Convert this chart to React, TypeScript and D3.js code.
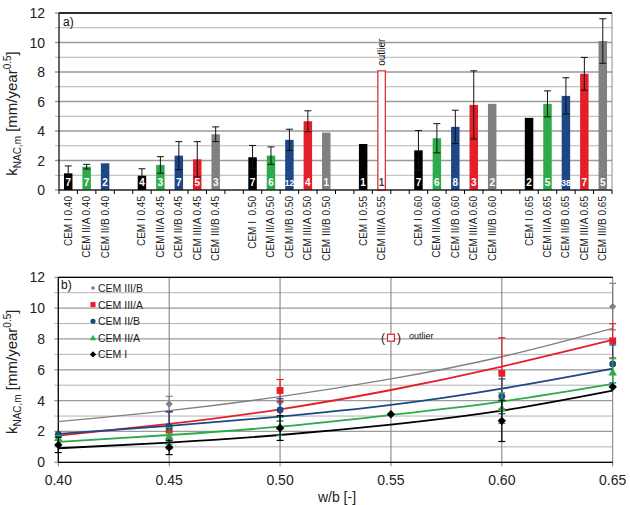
import React from "react";
import * as d3 from "d3";

// ---------- data ----------
const wbValues = [0.4, 0.45, 0.5, 0.55, 0.6, 0.65];
const wbLabels = ["0.40", "0.45", "0.50", "0.55", "0.60", "0.65"];
const cementTypes = ["CEM I", "CEM II/A", "CEM II/B", "CEM III/A", "CEM III/B"];

const meanCEMI = [1.13, 0.97, 2.22, 3.12, 2.69, 4.89];
const meanCEMIIA = [1.58, 1.7, 2.33, null, 3.51, 5.84];
const meanCEMIIB = [1.81, 2.33, 3.4, null, 4.28, 6.38];
const meanCEMIIIA = [null, 2.08, 4.66, 8.08, 5.77, 7.88];
const meanCEMIIIB = [null, 3.78, 3.89, null, 5.84, 10.1];

const errCEMI = [0.5, 0.47, 0.8, null, 1.34, null];
const errCEMIIA = [0.16, 0.56, 0.59, null, 0.99, 0.88];
const errCEMIIB = [null, 0.95, 0.72, null, 1.13, 1.23];
const errCEMIIIA = [null, 1.2, 0.71, null, 2.31, 1.11];
const errCEMIIIB = [null, 0.5, null, null, null, 1.51];

const countCEMI = [7, 4, 7, 1, 7, 2];
const countCEMIIA = [7, 3, 6, null, 6, 5];
const countCEMIIB = [2, 7, 12, null, 8, 38];
const countCEMIIIA = [null, 5, 4, 1, 3, 7];
const countCEMIIIB = [null, 3, 1, null, 2, 5];

// trend lines read at each w/b
const trendCEMI = [0.91, 1.28, 1.77, 2.44, 3.35, 4.65];
const trendCEMIIA = [1.32, 1.77, 2.31, 3.07, 3.94, 5.08];
const trendCEMIIB = [1.84, 2.36, 2.96, 3.72, 4.78, 6.08];
const trendCEMIIIA = [1.73, 2.49, 3.44, 4.69, 6.21, 7.94];
const trendCEMIIIB = [2.64, 3.35, 4.26, 5.41, 6.85, 8.69];

const outlierType = "CEM III/A";
const outlierWb = 0.55;

const yTicks = [0, 2, 4, 6, 8, 10, 12];
const yMinor = [0, 1, 2, 3, 4, 5, 6, 7, 8, 9, 10, 11, 12];

// ---------- styling ----------
const colors: Record<string, string> = {
  "CEM I": "#000000",
  "CEM II/A": "#2faa4a",
  "CEM II/B": "#1d4785",
  "CEM III/A": "#e3202a",
  "CEM III/B": "#808080",
};
const means: Record<string, (number | null)[]> = {
  "CEM I": meanCEMI,
  "CEM II/A": meanCEMIIA,
  "CEM II/B": meanCEMIIB,
  "CEM III/A": meanCEMIIIA,
  "CEM III/B": meanCEMIIIB,
};
const errs: Record<string, (number | null)[]> = {
  "CEM I": errCEMI,
  "CEM II/A": errCEMIIA,
  "CEM II/B": errCEMIIB,
  "CEM III/A": errCEMIIIA,
  "CEM III/B": errCEMIIIB,
};
const counts: Record<string, (number | null)[]> = {
  "CEM I": countCEMI,
  "CEM II/A": countCEMIIA,
  "CEM II/B": countCEMIIB,
  "CEM III/A": countCEMIIIA,
  "CEM III/B": countCEMIIIB,
};
const trends: Record<string, number[]> = {
  "CEM I": trendCEMI,
  "CEM II/A": trendCEMIIA,
  "CEM II/B": trendCEMIIB,
  "CEM III/A": trendCEMIIIA,
  "CEM III/B": trendCEMIIIB,
};

const FONT = "'Liberation Sans', Arial, sans-serif";

type Slot = { key: string; type: string | null; wbi: number; label: string };
const slots: Slot[] = [];
wbValues.forEach((wb, i) => {
  cementTypes.forEach((t) => {
    if (means[t][i] != null) {
      const lab = t === "CEM I" && i === 2 ? "CEM I  " + wbLabels[i] : t + " " + wbLabels[i];
      slots.push({ key: t + i, type: t, wbi: i, label: lab });
    }
  });
  if (i < wbValues.length - 1) slots.push({ key: "gap" + i, type: null, wbi: i, label: "" });
});

function Marker({ type, x, y, s = 1 }: { type: string; x: number; y: number; s?: number }) {
  const c = colors[type];
  if (type === "CEM I") {
    const r = 4.2 * s;
    return <path d={`M${x},${y - r}L${x + r},${y}L${x},${y + r}L${x - r},${y}Z`} fill={c} />;
  }
  if (type === "CEM III/B") {
    const r = 3.6 * s;
    return <path d={`M${x},${y - r}L${x + r},${y}L${x},${y + r}L${x - r},${y}Z`} fill={c} />;
  }
  if (type === "CEM III/A") {
    const r = 3.4 * s;
    return <rect x={x - r} y={y - r} width={2 * r} height={2 * r} fill={c} />;
  }
  if (type === "CEM II/B") {
    return <circle cx={x} cy={y} r={3.4 * s} fill={c} />;
  }
  const r = 4.2 * s;
  return <path d={`M${x},${y - r}L${x + r},${y + r * 0.75}L${x - r},${y + r * 0.75}Z`} fill={c} />;
}

export default function App() {
  // ---------- top chart ----------
  const tL = 59, tR = 612, tT = 13, tB = 190;
  const xTop = d3.scaleBand<string>().domain(slots.map((s) => s.key)).range([tL, tR]).padding(0);
  const yTop = d3.scaleLinear().domain([0, 12]).range([tB, tT]);
  const bw = xTop.bandwidth() * 0.46;

  // ---------- bottom chart ----------
  const bL = 58.3, bR = 612.7, bT = 277.3, bB = 462.3;
  const xBot = d3.scaleLinear().domain([0.4, 0.65]).range([bL, bR]);
  const yBot = d3.scaleLinear().domain([0, 12]).range([bB, bT]);
  const line = d3
    .line<number>()
    .x((_, i) => xBot(wbValues[i]))
    .y((d) => yBot(d))
    .curve(d3.curveNatural);

  const legendOrder = ["CEM III/B", "CEM III/A", "CEM II/B", "CEM II/A", "CEM I"];

  return (
    <svg
      width={630}
      height={505}
      style={{ position: "absolute", left: 0, top: 0, background: "#fff" }}
      fontFamily={FONT}
    >
      <rect x={0} y={0} width={630} height={505} fill="#fff" />
      {/* ===== TOP CHART ===== */}
      <g>
        {yMinor.map((v) => (
          <line key={v} x1={tL - 4} x2={tR} y1={yTop(v)} y2={yTop(v)} stroke={v % 2 === 0 ? "#9a9a9a" : "#b4b4b4"} strokeWidth={v % 2 === 0 ? 1.3 : 1} />
        ))}
        <line x1={tR} x2={tR} y1={tT} y2={tB} stroke="#8a8a8a" />
        <line x1={tL} x2={tR} y1={tT} y2={tT} stroke="#000" strokeWidth={1.3} />
        {yTicks.map((v) => (
          <text key={v} x={45} y={yTop(v) + 5} fontSize={14} textAnchor="end" fill="#222">
            {v}
          </text>
        ))}
        {slots.map((s) => {
          if (!s.type) return null;
          const t = s.type;
          const m = means[t][s.wbi] as number;
          const e = errs[t][s.wbi];
          const n = counts[t][s.wbi];
          const cx = (xTop(s.key) as number) + xTop.bandwidth() / 2;
          const isOut = t === outlierType && wbValues[s.wbi] === outlierWb;
          return (
            <g key={s.key}>
              {isOut ? (
                <rect x={cx - bw / 2 + 0.5} y={yTop(m)} width={bw - 1} height={tB - yTop(m)} fill="#fff" stroke={colors[t]} strokeWidth={1.2} />
              ) : (
                <rect x={cx - bw / 2} y={yTop(m)} width={bw} height={tB - yTop(m)} fill={colors[t]} />
              )}
              {e != null && (
                <g stroke="#111" strokeWidth={1}>
                  <line x1={cx} x2={cx} y1={yTop(m - e)} y2={yTop(m + e)} />
                  <line x1={cx - 3.5} x2={cx + 3.5} y1={yTop(m + e)} y2={yTop(m + e)} />
                  <line x1={cx - 3.5} x2={cx + 3.5} y1={yTop(m - e)} y2={yTop(m - e)} />
                </g>
              )}
              {n != null && (
                <text x={cx} y={tB - 4} fontSize={n >= 10 ? 8.5 : 10} fontWeight="bold" textAnchor="middle" fill={isOut ? "#444" : "#fff"}>
                  {n}
                </text>
              )}
              {isOut && (
                <text transform={`translate(${cx + 3.5},${yTop(m) - 5}) rotate(-90)`} fontSize={10} fill="#111">
                  outlier
                </text>
              )}
            </g>
          );
        })}
        <line x1={tL} x2={tL} y1={tT} y2={tB} stroke="#000" strokeWidth={1.2} />
        <line x1={tL} x2={tR} y1={tB} y2={tB} stroke="#000" strokeWidth={1.2} />
        {slots.map((s) => (
          <line key={"tk" + s.key} x1={xTop(s.key) as number} x2={xTop(s.key) as number} y1={tB} y2={tB + 4} stroke="#000" />
        ))}
        <line x1={tR} x2={tR} y1={tB} y2={tB + 4} stroke="#000" />
        {slots.map((s) =>
          s.label ? (
            <text
              key={"lb" + s.key}
              transform={`translate(${(xTop(s.key) as number) + xTop.bandwidth() / 2 + 3.5},${tB + 6}) rotate(-90)`}
              fontSize={10}
              textAnchor="end"
              fill="#222"
              style={{ whiteSpace: "pre" }}
            >
              {s.label}
            </text>
          ) : null
        )}
        <text x={63} y={26} fontSize={12} fill="#111">
          a)
        </text>
        <text transform={`translate(17,${(tT + tB) / 2 + 12}) rotate(-90)`} fontSize={15} textAnchor="middle" fill="#222">
          k<tspan fontSize={10} dy={4}>NAC,m</tspan>
          <tspan dy={-4}> [mm/year</tspan>
          <tspan fontSize={10} dy={-6}>0.5</tspan>
          <tspan dy={6}>]</tspan>
        </text>
      </g>

      {/* ===== BOTTOM CHART ===== */}
      <g>
        {yMinor.map((v) => (
          <line key={v} x1={bL - 4} x2={bR} y1={yBot(v)} y2={yBot(v)} stroke={v % 2 === 0 ? "#9a9a9a" : "#b4b4b4"} strokeWidth={v % 2 === 0 ? 1.3 : 1} />
        ))}
        {wbValues.map((w) => (
          <line key={w} x1={xBot(w)} x2={xBot(w)} y1={bT} y2={bB + 4} stroke="#7a7a7a" strokeWidth={1} />
        ))}
        <line x1={bL} x2={bR} y1={bT} y2={bT} stroke="#000" strokeWidth={1.3} />
        <line x1={bL} x2={bL} y1={bT} y2={bB} stroke="#000" strokeWidth={1.2} />
        <line x1={bL} x2={bR} y1={bB} y2={bB} stroke="#000" strokeWidth={1.2} />
        {yTicks.map((v) => (
          <text key={v} x={45} y={yBot(v) + 5} fontSize={14} textAnchor="end" fill="#222">
            {v}
          </text>
        ))}
        {wbValues.map((w, i) => (
          <text key={w} x={xBot(w)} y={485} fontSize={14} textAnchor="middle" fill="#222">
            {wbLabels[i]}
          </text>
        ))}
        <text x={337} y={502} fontSize={14} textAnchor="middle" fill="#222">
          w/b [-]
        </text>
        <text transform={`translate(17,${(bT + bB) / 2 + 2}) rotate(-90)`} fontSize={15} textAnchor="middle" fill="#222">
          k<tspan fontSize={10} dy={4}>NAC,m</tspan>
          <tspan dy={-4}> [mm/year</tspan>
          <tspan fontSize={10} dy={-6}>0.5</tspan>
          <tspan dy={6}>]</tspan>
        </text>
        {/* trend lines */}
        {legendOrder.map((t) => (
          <path key={"tr" + t} d={line(trends[t]) as string} fill="none" stroke={colors[t]} strokeWidth={t === "CEM III/B" ? 1.4 : 1.8} />
        ))}
        {/* error bars and markers */}
        {legendOrder.map((t) =>
          wbValues.map((w, i) => {
            const m = means[t][i];
            if (m == null) return null;
            const isOut = t === outlierType && w === outlierWb;
            const cx = xBot(w);
            if (isOut) {
              return (
                <g key={t + i}>
                  <rect x={cx - 3.5} y={yBot(m) - 3.5} width={7} height={7} fill="#fff" stroke={colors[t]} strokeWidth={1.2} />
                  <text x={cx - 6} y={yBot(m) + 4.5} fontSize={12} textAnchor="end" fill="#111">(</text>
                  <text x={cx + 6} y={yBot(m) + 4.5} fontSize={12} textAnchor="start" fill="#111">)</text>
                  <text x={cx + 18} y={yBot(m) + 1} fontSize={9} fill="#111">outlier</text>
                </g>
              );
            }
            const e = errs[t][i];
            return (
              <g key={t + i}>
                {e != null && (
                  <g stroke={colors[t]} strokeWidth={1.2}>
                    <line x1={cx} x2={cx} y1={yBot(m - e)} y2={yBot(m + e)} />
                    <line x1={cx - 3.5} x2={cx + 3.5} y1={yBot(m + e)} y2={yBot(m + e)} />
                    <line x1={cx - 3.5} x2={cx + 3.5} y1={yBot(m - e)} y2={yBot(m - e)} />
                  </g>
                )}
                <Marker type={t} x={cx} y={yBot(m)} />
              </g>
            );
          })
        )}
        <text x={61} y={289} fontSize={12} fill="#111">
          b)
        </text>
        {legendOrder.map((t, i) => (
          <g key={"lg" + t}>
            <Marker type={t} x={93} y={288 + i * 16.6} s={t === "CEM III/B" ? 0.6 : 0.75} />
            <text x={98} y={288 + i * 16.6 + 4} fontSize={10.5} fill="#222">
              {t}
            </text>
          </g>
        ))}
      </g>
    </svg>
  );
}
